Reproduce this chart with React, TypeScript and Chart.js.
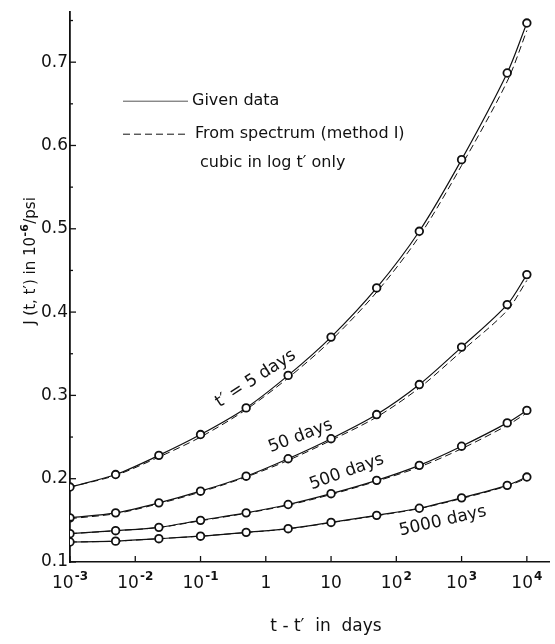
import React, { useEffect, useRef } from "react";
import { Chart, registerables } from "chart.js";

Chart.register(...registerables);

// ---- data ----
const times = [0.001, 0.005, 0.023, 0.1, 0.5, 2.2, 10, 50, 225, 1000, 5000, 10000];

const given5 = [0.19, 0.205, 0.228, 0.253, 0.285, 0.324, 0.37, 0.429, 0.497, 0.583, 0.687, 0.747];
const given50 = [0.153, 0.159, 0.171, 0.185, 0.203, 0.224, 0.248, 0.277, 0.313, 0.358, 0.409, 0.445];
const given500 = [0.134, 0.1376, 0.1416, 0.15, 0.159, 0.169, 0.182, 0.198, 0.216, 0.239, 0.267, 0.282];
const given5000 = [0.124, 0.125, 0.128, 0.131, 0.1356, 0.14, 0.1475, 0.156, 0.1645, 0.177, 0.192, 0.202];

const spectrum5 = [0.19, 0.204, 0.226, 0.25, 0.283, 0.321, 0.366, 0.424, 0.491, 0.576, 0.677, 0.738];
const spectrum50 = [0.152, 0.158, 0.17, 0.184, 0.202, 0.222, 0.246, 0.274, 0.309, 0.353, 0.402, 0.438];
const spectrum500 = [0.134, 0.1375, 0.1414, 0.1495, 0.1585, 0.1682, 0.181, 0.197, 0.214, 0.236, 0.264, 0.279];
const spectrum5000 = [0.124, 0.125, 0.128, 0.131, 0.1354, 0.1398, 0.1472, 0.1556, 0.1641, 0.1762, 0.1912, 0.2005];

const xTickValues = [1e-3, 1e-2, 1e-1, 1, 10, 100, 1000, 10000];
const xTickBase = ["10", "10", "10", "1", "10", "10", "10", "10"];
const xTickExp = ["-3", "-2", "-1", "", "", "2", "3", "4"];
const yTickValues = [0.1, 0.2, 0.3, 0.4, 0.5, 0.6, 0.7];
const yTickLabels = ["0.1", "0.2", "0.3", "0.4", "0.5", "0.6", "0.7"];
const yMinorTickValues = [0.15, 0.25, 0.35, 0.45, 0.55, 0.65, 0.75];

const curveLabels = ["t′ = 5 days", "50 days", "500 days", "5000 days"];
const curveLabelX = [0.7, 3.4, 17.4, 515];
const curveLabelY = [0.32, 0.251, 0.208, 0.149];
const curveLabelAngle = [-33, -21, -20, -13];

const legendLabels = ["Given data", "From spectrum (method I)", "cubic in log t′ only"];
const xTitle = "t - t′  in  days";
const yTitleParts = ["J (t, t′) in 10", "-6", "/psi"];

const FONT = "'DejaVu Sans', 'Liberation Sans', sans-serif";
const INK = "#111";

const annotate = {
  id: "annotate",
  afterDraw(chart: any) {
    const ctx = chart.ctx;
    const xs = chart.scales.x;
    const ys = chart.scales.y;
    const area = chart.chartArea;
    ctx.save();
    ctx.strokeStyle = INK;
    ctx.fillStyle = INK;
    ctx.lineWidth = 1.3;
    ctx.setLineDash([]);
    // inward ticks
    xTickValues.forEach((v) => {
      const px = xs.getPixelForValue(v);
      ctx.beginPath();
      ctx.moveTo(px, area.bottom);
      ctx.lineTo(px, area.bottom - 6);
      ctx.stroke();
    });
    yTickValues.forEach((v) => {
      const py = ys.getPixelForValue(v);
      ctx.beginPath();
      ctx.moveTo(area.left, py);
      ctx.lineTo(area.left + 6, py);
      ctx.stroke();
    });
    yMinorTickValues.forEach((v) => {
      const py = ys.getPixelForValue(v);
      ctx.beginPath();
      ctx.moveTo(area.left, py);
      ctx.lineTo(area.left + 3, py);
      ctx.stroke();
    });

    // x tick labels with superscripts
    ctx.textBaseline = "alphabetic";
    ctx.textAlign = "left";
    xTickValues.forEach((v, i) => {
      const px = xs.getPixelForValue(v);
      ctx.font = `17px ${FONT}`;
      const wb = ctx.measureText(xTickBase[i]).width;
      ctx.font = `bold 12px ${FONT}`;
      const we = xTickExp[i] ? ctx.measureText(xTickExp[i]).width + 1 : 0;
      const x0 = px - (wb + we) / 2;
      const base = area.bottom + 26;
      ctx.font = `17px ${FONT}`;
      ctx.fillText(xTickBase[i], x0, base);
      if (xTickExp[i]) {
        ctx.font = `bold 12px ${FONT}`;
        ctx.fillText(xTickExp[i], x0 + wb + 1, base - 8);
      }
    });

    // legend
    ctx.lineWidth = 1;
    const lx0 = area.left + 53;
    const lx1 = area.left + 118;
    ctx.strokeStyle = "#555";
    ctx.beginPath();
    ctx.moveTo(lx0, area.top + 89);
    ctx.lineTo(lx1, area.top + 89);
    ctx.stroke();
    ctx.strokeStyle = INK;
    ctx.setLineDash([7, 4]);
    ctx.beginPath();
    ctx.moveTo(lx0, area.top + 122);
    ctx.lineTo(lx1, area.top + 122);
    ctx.stroke();
    ctx.setLineDash([]);
    ctx.font = `16px ${FONT}`;
    ctx.textBaseline = "middle";
    ctx.textAlign = "left";
    ctx.fillText(legendLabels[0], lx1 + 4, area.top + 89);
    ctx.fillText(legendLabels[1], lx1 + 7, area.top + 122);
    ctx.fillText(legendLabels[2], lx1 + 12, area.top + 151);

    // curve labels
    ctx.font = `17px ${FONT}`;
    ctx.textAlign = "center";
    curveLabels.forEach((t, i) => {
      const px = xs.getPixelForValue(curveLabelX[i]);
      const py = ys.getPixelForValue(curveLabelY[i]);
      ctx.save();
      ctx.translate(px, py);
      ctx.rotate((curveLabelAngle[i] * Math.PI) / 180);
      ctx.fillText(t, 0, 0);
      ctx.restore();
    });

    // axis titles
    ctx.font = `17px ${FONT}`;
    ctx.textAlign = "center";
    ctx.fillText(xTitle, 326, 627);

    ctx.save();
    ctx.translate(31, 261);
    ctx.rotate(-Math.PI / 2);
    ctx.textAlign = "left";
    ctx.font = `15px ${FONT}`;
    const w0 = ctx.measureText(yTitleParts[0]).width;
    const w2 = ctx.measureText(yTitleParts[2]).width;
    ctx.font = `bold 11px ${FONT}`;
    const w1 = ctx.measureText(yTitleParts[1]).width + 1;
    let sx = -(w0 + w1 + w2) / 2;
    ctx.font = `15px ${FONT}`;
    ctx.fillText(yTitleParts[0], sx, 0);
    sx += w0;
    ctx.font = `bold 11px ${FONT}`;
    ctx.fillText(yTitleParts[1], sx + 0.5, -6);
    sx += w1;
    ctx.font = `15px ${FONT}`;
    ctx.fillText(yTitleParts[2], sx, 0);
    ctx.restore();
    ctx.restore();
  },
};

function solid(data: number[]) {
  return {
    data: times.map((t, i) => ({ x: t, y: data[i] })),
    borderColor: INK,
    borderWidth: 1.2,
    pointRadius: 3.8,
    pointBorderWidth: 1.8,
    pointBorderColor: INK,
    pointBackgroundColor: "#fff",
    tension: 0.3,
    fill: false,
  };
}

function dashed(data: number[]) {
  return {
    data: times.map((t, i) => ({ x: t, y: data[i] })),
    borderColor: INK,
    borderWidth: 1,
    borderDash: [7, 4],
    pointRadius: 0,
    tension: 0.3,
    fill: false,
  };
}

export default function App() {
  const ref = useRef<HTMLCanvasElement | null>(null);
  useEffect(() => {
    document.body.style.margin = "0";
    const canvas = ref.current;
    if (!canvas) return;
    const chart = new Chart(canvas, {
      type: "line",
      data: {
        datasets: [
          solid(given5),
          solid(given50),
          solid(given500),
          solid(given5000),
          dashed(spectrum5),
          dashed(spectrum50),
          dashed(spectrum500),
          dashed(spectrum5000),
        ] as any,
      },
      options: {
        responsive: false,
        animation: false,
        devicePixelRatio: 1,
        layout: { padding: { top: 6, right: 0, left: 0, bottom: 0 } },
        plugins: { legend: { display: false }, tooltip: { enabled: false }, title: { display: false } },
        scales: {
          x: {
            type: "logarithmic",
            min: 1e-3,
            max: 22000,
            grid: { display: false, drawTicks: false },
            border: { display: true, color: INK, width: 1.6 },
            afterBuildTicks: (scale: any) => {
              scale.ticks = xTickValues.map((v) => ({ value: v }));
            },
            afterFit: (scale: any) => {
              scale.height = 82;
            },
            ticks: { display: false },
          },
          y: {
            type: "linear",
            min: 0.1,
            max: 0.76,
            grid: { display: false, drawTicks: false },
            border: { display: true, color: INK, width: 1.8 },
            afterBuildTicks: (scale: any) => {
              scale.ticks = yTickValues.map((v) => ({ value: v }));
            },
            afterFit: (scale: any) => {
              scale.width = 70;
            },
            ticks: {
              autoSkip: false,
              padding: 2,
              color: INK,
              font: { family: FONT, size: 17 },
              callback: (v: any) => {
                const i = yTickValues.findIndex((t) => Math.abs(t - Number(v)) < 1e-6);
                return i >= 0 ? yTickLabels[i] : "";
              },
            },
          },
        },
      },
      plugins: [annotate],
    });
    return () => chart.destroy();
  }, []);
  return (
    <div style={{ position: "absolute", left: 0, top: 0, width: 555, height: 644, background: "#fff" }}>
      <canvas ref={ref} width={555} height={644} style={{ width: 555, height: 644, display: "block" }} />
    </div>
  );
}
